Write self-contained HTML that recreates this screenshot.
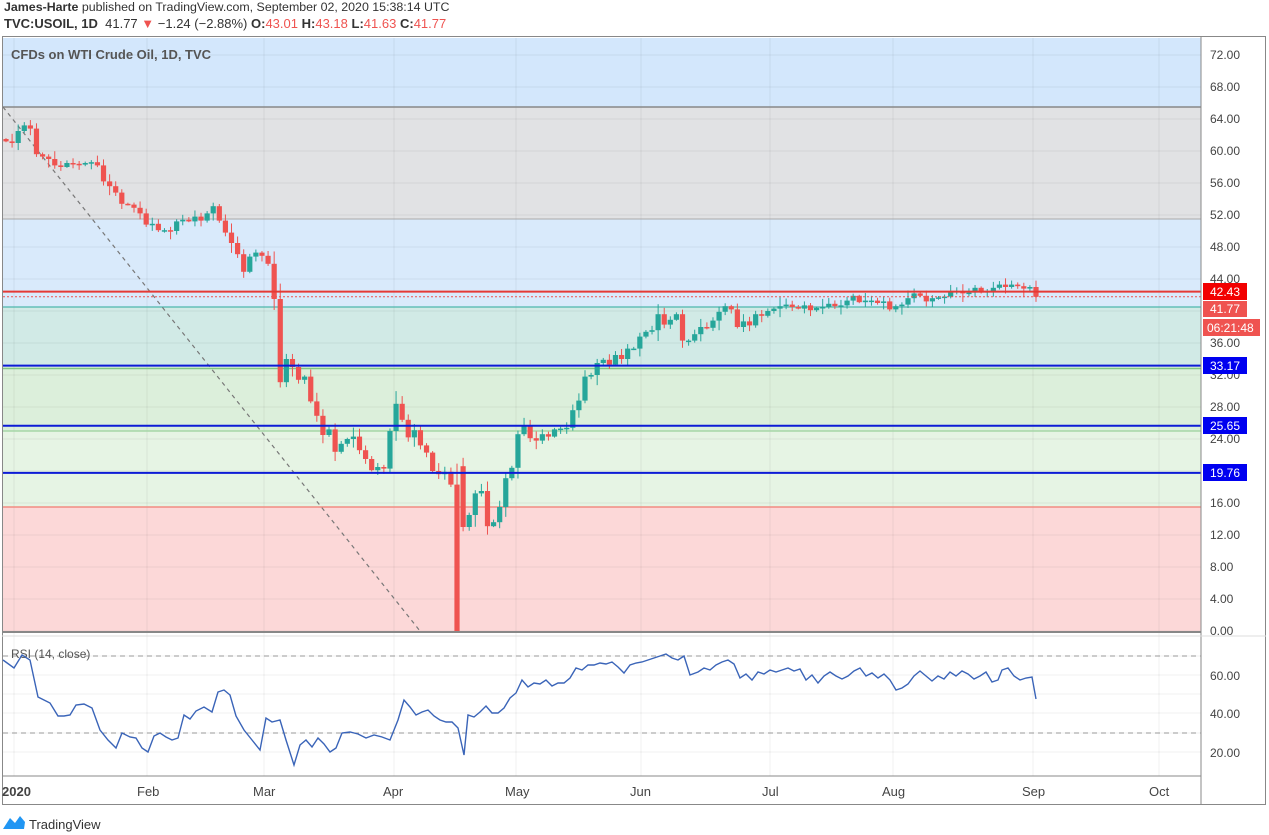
<!DOCTYPE html>
<html><head><meta charset="utf-8"><style>
body{margin:0;width:1269px;height:835px;background:#fff;font-family:"Liberation Sans",sans-serif;overflow:hidden;position:relative}
.t{position:absolute;white-space:nowrap}
</style></head><body>
<div class="t" style="left:4px;top:0px;font-size:12.4px;color:#333"><b>James-Harte</b> published on TradingView.com, September 02, 2020 15:38:14 UTC</div>
<div class="t" style="left:4px;top:16px;font-size:13px;color:#333"><b>TVC:USOIL, 1D</b>&nbsp; 41.77 <span style="color:#ef5350">▼</span> −1.24 (−2.88%) <b>O:</b><span style="color:#ef5350">43.01</span> <b>H:</b><span style="color:#ef5350">43.18</span> <b>L:</b><span style="color:#ef5350">41.63</span> <b>C:</b><span style="color:#ef5350">41.77</span></div>
<svg id="s" width="1269" height="835" style="position:absolute;left:0;top:0" xmlns="http://www.w3.org/2000/svg" font-family="Liberation Sans, sans-serif">
<rect x="3" y="38" width="1198" height="69" fill="#d3e7fc"/>
<rect x="3" y="107" width="1198" height="112" fill="#e1e2e4"/>
<rect x="3" y="219" width="1198" height="88" fill="#d9eafb"/>
<rect x="3" y="307" width="1198" height="60" fill="#d1eae6"/>
<rect x="3" y="367" width="1198" height="64" fill="#dcefdb"/>
<rect x="3" y="431" width="1198" height="76" fill="#e6f4e4"/>
<rect x="3" y="507" width="1198" height="124" fill="#fcd8d8"/>
<g id="grid" stroke="#000" stroke-opacity="0.06" stroke-width="1"></g>
<line x1="3" y1="107" x2="1201" y2="107" stroke="#888" stroke-width="1.5"/>
<line x1="3" y1="219" x2="1201" y2="219" stroke="#aaa" stroke-width="1"/>
<line x1="3" y1="307" x2="1201" y2="307" stroke="#4db6ac" stroke-width="1.2"/>
<line x1="3" y1="368.5" x2="1201" y2="368.5" stroke="#81c784" stroke-width="1.5"/>
<line x1="3" y1="431" x2="1201" y2="431" stroke="#a5d6a7" stroke-width="1.5"/>
<line x1="3" y1="507" x2="1201" y2="507" stroke="#f28b82" stroke-width="1.5"/>
<line x1="3" y1="107" x2="420" y2="631" stroke="#777" stroke-width="1.2" stroke-dasharray="4,4"/>
<g id="c"></g>
<line x1="3" y1="291.6" x2="1201" y2="291.6" stroke="#e53935" stroke-width="2"/>
<line x1="3" y1="296.8" x2="1201" y2="296.8" stroke="#ef5350" stroke-width="1" stroke-dasharray="2,2"/>
<line x1="3" y1="365.6" x2="1201" y2="365.6" stroke="#0d1bd6" stroke-width="2"/>
<line x1="3" y1="425.8" x2="1201" y2="425.8" stroke="#0d1bd6" stroke-width="2"/>
<line x1="3" y1="472.9" x2="1201" y2="472.9" stroke="#0d1bd6" stroke-width="2"/>
<text x="11" y="59" font-size="13" fill="#555" font-weight="bold">CFDs on WTI Crude Oil, 1D, TVC</text>
<rect x="2.5" y="36.5" width="1263" height="768" fill="none" stroke="#888"/>
<line x1="1201" y1="36" x2="1201" y2="804" stroke="#888"/>
<line x1="2" y1="632" x2="1201" y2="632" stroke="#888" stroke-width="2"/>
<line x1="2" y1="636" x2="1266" y2="636" stroke="#ddd"/>
<line x1="2" y1="776" x2="1201" y2="776" stroke="#888"/>
<g id="pl" font-size="12" fill="#444"></g>
<rect x="1203" y="283" width="44" height="17" fill="#f20000"/><text x="1210" y="296" font-size="12" fill="#fff">42.43</text>
<rect x="1203" y="301" width="44" height="16" fill="#ef5350"/><text x="1210" y="313" font-size="12" fill="#fff">41.77</text>
<rect x="1203" y="319" width="57" height="17" fill="#ef5350"/><text x="1207" y="332" font-size="12" fill="#fff">06:21:48</text>
<rect x="1203" y="357" width="44" height="17" fill="#0000f0"/><text x="1210" y="370" font-size="12" fill="#fff">33.17</text>
<rect x="1203" y="417" width="44" height="17" fill="#0000f0"/><text x="1210" y="430" font-size="12" fill="#fff">25.65</text>
<rect x="1203" y="464" width="44" height="17" fill="#0000f0"/><text x="1210" y="477" font-size="12" fill="#fff">19.76</text>
<line x1="3" y1="656" x2="1201" y2="656" stroke="#999" stroke-dasharray="5,4"/>
<line x1="3" y1="733" x2="1201" y2="733" stroke="#999" stroke-dasharray="5,4"/>
<text x="11" y="658" font-size="12" fill="#555">RSI (14, close)</text>
<polyline fill="none" stroke="#3a64b8" stroke-width="1.4" points="3,660 14,668 22,655 30,660 38,697 50,703 58,716 64,716 70,715 76,705 84,704 92,708 100,730 108,740 116,748 122,733 130,737 136,738 142,748 148,752 154,736 160,733 166,737 172,740 178,738 184,715 190,719 196,711 204,707 212,712 218,692 224,690 230,695 236,716 244,730 252,740 260,750 266,718 272,722 280,720 286,740 294,765 300,745 306,740 312,747 318,738 324,744 330,752 336,748 342,733 350,732 358,734 366,738 374,735 382,737 390,740 398,720 404,700 410,707 416,715 422,712 428,710 434,716 440,720 446,722 452,722 458,728 464,755 468,715 474,717 480,712 486,706 492,713 498,713 504,708 510,698 516,693 522,680 528,687 534,683 540,684 546,680 552,686 558,683 564,683 570,678 576,668 582,670 588,665 594,665 600,663 606,664 612,662 618,667 624,673 630,665 636,663 642,662 648,660 654,658 660,656 666,654 672,658 678,660 684,656 690,675 698,672 704,668 710,670 716,665 722,662 728,660 734,664 740,678 746,674 752,680 758,672 764,674 770,670 776,672 782,670 788,668 794,671 800,669 806,680 812,675 818,683 824,676 830,672 836,676 842,679 848,676 854,671 860,668 866,676 872,673 878,678 884,674 890,680 896,690 902,688 908,684 914,676 920,671 926,676 932,681 938,676 944,679 950,672 956,676 962,671 968,674 974,679 980,676 986,672 992,682 998,680 1002,670 1008,668 1014,676 1020,680 1026,678 1032,677 1036,699"/>
<g font-size="12" fill="#444">
<text x="1210" y="680">60.00</text><text x="1210" y="718">40.00</text><text x="1210" y="757">20.00</text>
</g>
<g font-size="13" fill="#444">
<text x="2" y="796" font-weight="bold">2020</text><text x="137" y="796">Feb</text><text x="253" y="796">Mar</text><text x="383" y="796">Apr</text><text x="505" y="796">May</text><text x="630" y="796">Jun</text><text x="762" y="796">Jul</text><text x="882" y="796">Aug</text><text x="1022" y="796">Sep</text><text x="1149" y="796">Oct</text>
</g>
<path d="M3 829 L10 818 L15 823 L20 816 L25 822 L24 829 Z" fill="#2196f3"/>
<text x="29" y="829" font-size="13" fill="#333">TradingView</text>
</svg>
<script>
var NS="http://www.w3.org/2000/svg";
function el(p,t,a){var e=document.createElementNS(NS,t);for(var k in a)e.setAttribute(k,a[k]);p.appendChild(e);return e;}
var g=document.getElementById('grid'),pl=document.getElementById('pl');
var mx=[14,147,264,394,516,641,770,893,1033,1159];
mx.forEach(function(x){el(g,'line',{x1:x,y1:38,x2:x,y2:776});});
for(var p=0;p<=72;p+=4){var y=631-8*p;el(g,'line',{x1:3,y1:y,x2:1201,y2:y});
 if(p!=40){var t=el(pl,'text',{x:1210,y:y+4});t.textContent=p.toFixed(2);}}
[656,675,694,713,733,752].forEach(function(y){el(g,'line',{x1:3,y1:y,x2:1201,y2:y});});
var C=[61.2,61.0,62.5,63.2,62.8,59.6,59.3,59.0,58.2,58.0,58.5,58.4,58.3,58.5,58.6,58.2,56.2,55.6,54.8,53.4,53.3,
52.9,52.2,50.8,50.9,50.1,50.1,50.0,51.2,51.4,51.2,51.8,51.3,52.2,53.1,51.3,49.8,48.5,47.1,44.9,
46.8,47.3,46.9,45.9,41.5,31.1,34.0,33.0,31.4,31.8,28.7,26.9,24.5,25.2,22.4,23.4,24.0,24.3,22.6,21.5,20.1,20.5,
20.3,25.0,28.4,26.4,24.2,25.1,23.2,22.3,20.0,19.6,19.9,18.3,0,13.0,14.5,17.2,17.5,13.1,13.6,15.5,19.1,
20.4,24.6,25.7,24.1,23.8,24.6,24.3,25.2,25.3,25.4,27.6,28.8,31.8,32.0,33.5,33.9,33.3,34.5,34.0,35.3,
35.3,36.8,37.4,37.6,39.6,38.3,38.9,39.6,36.3,36.3,37.1,38.0,37.9,38.8,39.9,40.6,40.2,38.0,38.7,38.2,39.6,39.4,
40.0,40.3,40.6,40.8,40.5,40.3,40.7,40.1,40.4,40.5,40.9,40.6,40.7,41.3,41.9,41.1,41.3,41.3,41.0,41.2,40.2,40.6,
40.8,41.6,42.2,41.9,41.2,41.6,41.7,41.8,42.4,42.5,42.2,42.3,42.9,42.3,42.5,42.9,43.3,43.0,43.3,43.1,42.8,
43.0,41.77];
var cg=document.getElementById('c'),n=C.length,sp=(1036-6)/(n-1);
function Y(v){return 631-8*Math.max(0,v);}
for(var i=0;i<n;i++){
 var c=C[i],o=i?C[i-1]:61.5;
 if(c===0){o=18.3;} if(i>0&&C[i-1]===0){o=20.6;}
 var w=0.3+((i*37)%10)/10*0.7+Math.abs(c-o)*0.15;
 var h=Math.max(o,c)+w*(((i*13)%7)/7+0.3),l=Math.min(o,c)-w*(((i*17)%5)/5+0.3);
 if(c===0)l=0;
 var x=6+i*sp,col=c>=o?'#26a69a':'#ef5350';
 el(cg,'line',{x1:x,y1:Y(h),x2:x,y2:Y(l),stroke:col,'stroke-width':1});
 var t=Y(Math.max(o,c)),b=Y(Math.min(o,c));
 el(cg,'rect',{x:x-2.6,y:t,width:5.2,height:Math.max(1.5,b-t),fill:col});
}
</script>
</body></html>
